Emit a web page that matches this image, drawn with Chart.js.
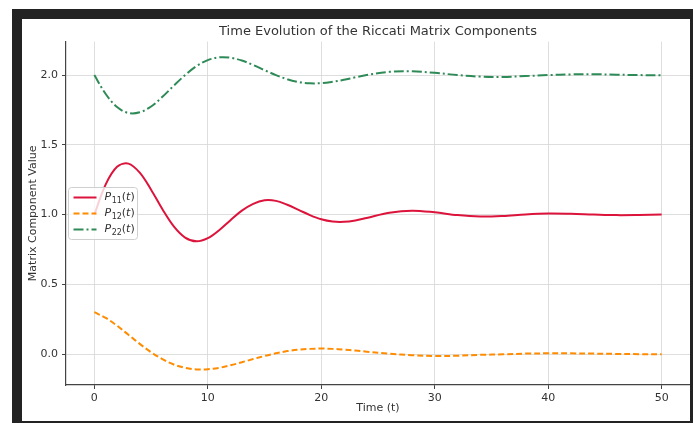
<!DOCTYPE html>
<html lang="en">
<head>
<meta charset="UTF-8">
<title>Time Evolution of the Riccati Matrix Components</title>
<script src="https://cdn.jsdelivr.net/npm/chart.js"></script>
<style>
    html, body { margin: 0; padding: 0; background: #fff; }
    body { width: 693px; height: 423px; overflow: hidden; position: relative; }
    .frame {
        position: absolute; left: 12px; top: 9px;
        width: 668px; height: 402px; background: #fff;
        border-left: 10px solid #232323; border-top: 10px solid #232323;
        border-right: 3px solid #232323; border-bottom: 2px solid #232323;
    }
    #chart { position: absolute; left: 22px; top: 19px; }
</style>
</head>
<body>
<div class="frame"></div>
<canvas id="chart" width="668" height="402"></canvas>
<script>
    // data
    const timeValues = [0, 1, 2, 3, 4, 5, 6, 7, 8, 9, 10, 11, 12, 13, 14, 15, 16, 17, 18, 19, 20, 21, 22, 23, 24,
                        26, 28, 30, 32, 34, 36, 38, 40, 42, 44, 46, 48, 50];
    const p11Values = [1.000, 1.216, 1.342, 1.365, 1.300, 1.178, 1.038, 0.915, 0.835, 0.808, 0.831, 0.888, 0.960,
                       1.028, 1.077, 1.102, 1.098, 1.070, 1.034, 0.996, 0.966, 0.950, 0.948, 0.958, 0.976,
                       1.013, 1.028, 1.016, 0.996, 0.986, 0.990, 1.001, 1.007, 1.005, 1.000, 0.996, 0.997, 1.000];
    const p12Values = [0.300, 0.259, 0.203, 0.138, 0.073, 0.013, -0.037, -0.075, -0.099, -0.110, -0.109, -0.099, -0.081,
                       -0.059, -0.036, -0.014, 0.005, 0.021, 0.031, 0.037, 0.039, 0.037, 0.032, 0.025, 0.017,
                       0.002, -0.008, -0.014, -0.012, -0.006, -0.002, 0.003, 0.005, 0.005, 0.003, 0.001, -0.001, -0.002];
    const p22Values = [2.000, 1.864, 1.771, 1.728, 1.733, 1.775, 1.844, 1.924, 2.000, 2.064, 2.107, 2.127, 2.124,
                       2.104, 2.072, 2.035, 2.000, 1.970, 1.950, 1.941, 1.942, 1.952, 1.966, 1.984, 2.000,
                       2.023, 2.027, 2.016, 2.000, 1.989, 1.987, 1.993, 2.000, 2.005, 2.006, 2.003, 2.000, 1.998];
    const seriesSubscripts = ['11', '12', '22'];
    const xTickValues = [0, 10, 20, 30, 40, 50];
    const yTickValues = [0.0, 0.5, 1.0, 1.5, 2.0];

    const FONT = '"DejaVu Sans", sans-serif';
    const TEXT = '#333333';

    function points(values) {
        return timeValues.map((t, i) => ({ x: t, y: values[i] }));
    }

    // matplotlib-like legend with math text (italic P and t, subscript index)
    const mathLegend = {
        id: 'mathLegend',
        afterDatasetsDraw(chart) {
            const ctx = chart.ctx;
            const area = chart.chartArea;
            const boxW = 69, boxH = 52;
            const x0 = Math.round(area.left + 2) + 0.5;
            const y0 = Math.round((area.top + area.bottom) / 2 - boxH / 2) + 0.5;
            ctx.save();
            ctx.beginPath();
            if (ctx.roundRect) ctx.roundRect(x0, y0, boxW, boxH, 3);
            else ctx.rect(x0, y0, boxW, boxH);
            ctx.fillStyle = 'rgba(255,255,255,0.8)';
            ctx.fill();
            ctx.strokeStyle = '#cfcfcf';
            ctx.lineWidth = 1;
            ctx.stroke();

            chart.data.datasets.forEach((ds, i) => {
                const rowY = y0 + 10 + i * 16;
                ctx.beginPath();
                ctx.setLineDash(ds.borderDash || []);
                ctx.strokeStyle = ds.borderColor;
                ctx.lineWidth = ds.borderWidth;
                ctx.moveTo(x0 + 5, rowY);
                ctx.lineTo(x0 + 28, rowY);
                ctx.stroke();
                ctx.setLineDash([]);

                let tx = x0 + 36;
                ctx.fillStyle = TEXT;
                ctx.textAlign = 'left';
                ctx.textBaseline = 'middle';
                const parts = [
                    ['italic 11px ' + FONT, 'P', 0],
                    ['8px ' + FONT, seriesSubscripts[i], 3],
                    ['11px ' + FONT, '(', 0],
                    ['italic 11px ' + FONT, 't', 0],
                    ['11px ' + FONT, ')', 0]
                ];
                parts.forEach(([font, str, dy]) => {
                    ctx.font = font;
                    ctx.fillText(str, tx, rowY + dy);
                    tx += ctx.measureText(str).width + (str === 'P' ? 0.5 : 0);
                });
            });
            ctx.restore();
        }
    };

    const gridStyle = {
        color: '#d6d6d6',
        lineWidth: 0.8,
        borderDash: [1, 2.5],
        drawTicks: true,
        tickLength: 4,
        tickColor: '#444444',
        tickBorderDash: [],
        tickWidth: 1
    };

    new Chart(document.getElementById('chart').getContext('2d'), {
        type: 'line',
        data: {
            datasets: [{
                label: 'P11(t)',
                data: points(p11Values),
                borderColor: '#dc143c',
                borderWidth: 2,
                pointRadius: 0,
                tension: 0.35
            }, {
                label: 'P12(t)',
                data: points(p12Values),
                borderColor: '#ff8c00',
                borderWidth: 2,
                borderDash: [6, 3],
                pointRadius: 0,
                tension: 0.35
            }, {
                label: 'P22(t)',
                data: points(p22Values),
                borderColor: '#2e8b57',
                borderWidth: 2,
                borderDash: [10, 3, 2, 3],
                pointRadius: 0,
                tension: 0.35
            }]
        },
        options: {
            responsive: false,
            animation: false,
            layout: { padding: 0 },
            scales: {
                x: {
                    type: 'linear',
                    min: -2.5,
                    max: 52.5,
                    afterBuildTicks: (scale) => { scale.ticks = xTickValues.map(v => ({ value: v })); },
                    afterFit: (scale) => { scale.height = 36; },
                    grid: gridStyle,
                    border: { display: true, color: '#444444', width: 1.2 },
                    ticks: {
                        color: TEXT,
                        font: { family: FONT, size: 11 },
                        padding: 3,
                        maxRotation: 0,
                        callback: (v) => String(v)
                    },
                    title: {
                        display: true,
                        text: 'Time (t)',
                        color: TEXT,
                        font: { family: FONT, size: 11 },
                        padding: { top: 0, bottom: 6 }
                    }
                },
                y: {
                    type: 'linear',
                    min: -0.222,
                    max: 2.24,
                    afterBuildTicks: (scale) => { scale.ticks = yTickValues.map(v => ({ value: v })); },
                    afterFit: (scale) => { scale.width = 44; },
                    grid: gridStyle,
                    border: { display: true, color: '#444444', width: 1.2 },
                    ticks: {
                        color: TEXT,
                        font: { family: FONT, size: 11 },
                        padding: 4,
                        callback: (v) => Number(v).toFixed(1)
                    },
                    title: {
                        display: true,
                        text: 'Matrix Component Value',
                        color: TEXT,
                        font: { family: FONT, size: 11 },
                        padding: { top: 5, bottom: 0 }
                    }
                }
            },
            plugins: {
                legend: { display: false },
                tooltip: { enabled: false },
                title: {
                    display: true,
                    fullSize: false,
                    text: 'Time Evolution of the Riccati Matrix Components',
                    color: TEXT,
                    font: { family: FONT, size: 13, weight: 'normal' },
                    padding: { top: 5, bottom: 2 }
                }
            }
        },
        plugins: [mathLegend]
    });
</script>
</body>
</html>
